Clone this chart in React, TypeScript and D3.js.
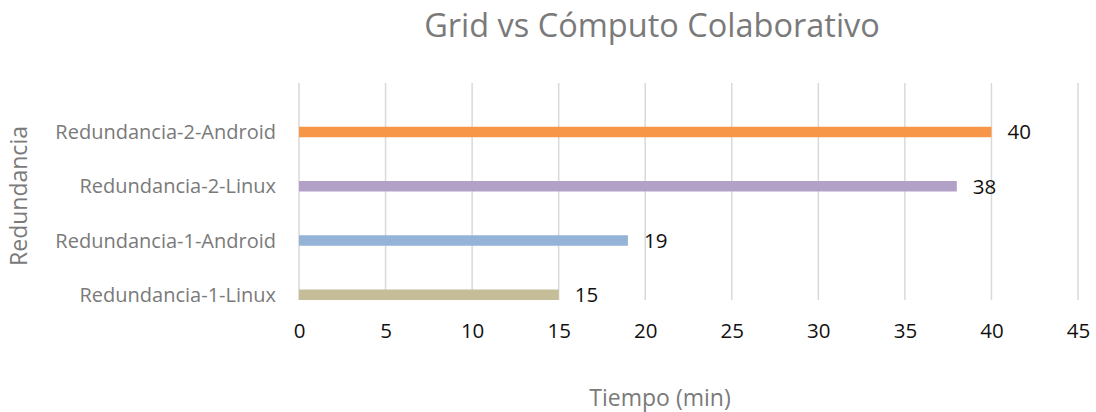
import { useEffect, useRef } from 'react';
import * as d3 from 'd3';

const categories = [
    'Redundancia-1-Linux',
    'Redundancia-1-Android',
    'Redundancia-2-Linux',
    'Redundancia-2-Android',
];
const values = [15, 19, 38, 40];
const barColours = ['#C4BD97', '#95B3D7', '#B2A1C7', '#F79646'];
const xTicks = [0, 5, 10, 15, 20, 25, 30, 35, 40, 45];

const title = 'Grid vs Cómputo Colaborativo';
const xTitle = 'Tiempo (min)';
const yTitle = 'Redundancia';

const width = 1096;
const height = 412;
const margin = { top: 83, right: 18, bottom: 112, left: 299 };
const font = "'Open Sans', sans-serif";
const grey = '#7a7a7a';

export default function App() {
    const xAxisEl = useRef<SVGGElement>(null);

    const x = d3
        .scaleLinear()
        .domain([0, 45])
        .range([margin.left, width - margin.right]);
    const y = d3
        .scaleBand<string>()
        .domain(categories)
        .range([height - margin.bottom, margin.top]);
    const barH = 10.5;

    useEffect(() => {
        if (!xAxisEl.current) return;
        d3.select(xAxisEl.current)
            .call(d3.axisBottom(x).tickValues(xTicks).tickSize(0).tickPadding(0))
            .call((g) => g.select('.domain').remove())
            .call((g) =>
                g
                    .selectAll('text')
                    .attr('dy', null)
                    .attr('y', 38)
                    .attr('font-family', font)
                    .attr('font-size', 20.5)
                    .attr('fill', '#111')
            );
    }, []);

    return (
        <svg width={width} height={height} style={{ position: 'absolute', left: 0, top: 0 }}>
            <rect width={width} height={height} fill="#fff" />
            <text
                x={652}
                y={37}
                textAnchor="middle"
                fontFamily={font}
                fontSize={32.5}
                fill={grey}
            >
                {title}
            </text>
            {xTicks.map((t) => (
                <line
                    key={t}
                    x1={x(t)}
                    x2={x(t)}
                    y1={margin.top}
                    y2={height - margin.bottom}
                    stroke="#d9d9d9"
                    strokeWidth={1.5}
                />
            ))}
            {categories.map((c, i) => {
                const by = (y(c) ?? 0) + y.bandwidth() - barH;
                return (
                    <g key={c}>
                        <rect
                            x={x(0)}
                            y={by}
                            width={x(values[i]) - x(0)}
                            height={barH}
                            fill={barColours[i]}
                        />
                        <text
                            x={x(values[i]) + 16}
                            y={by + barH / 2}
                            dy="0.36em"
                            fontFamily={font}
                            fontSize={20.5}
                            fill="#111"
                        >
                            {values[i]}
                        </text>
                        <text
                            x={margin.left - 23}
                            y={by + barH / 2}
                            dy="0.36em"
                            textAnchor="end"
                            fontFamily={font}
                            fontSize={20}
                            fill={grey}
                        >
                            {c}
                        </text>
                    </g>
                );
            })}
            <g ref={xAxisEl} transform={`translate(0, ${height - margin.bottom})`} />
            <text
                x={660}
                y={406}
                textAnchor="middle"
                fontFamily={font}
                fontSize={23}
                fill={grey}
            >
                {xTitle}
            </text>
            <text
                transform={`translate(27, 196) rotate(-90)`}
                textAnchor="middle"
                fontFamily={font}
                fontSize={23}
                fill={grey}
            >
                {yTitle}
            </text>
        </svg>
    );
}
